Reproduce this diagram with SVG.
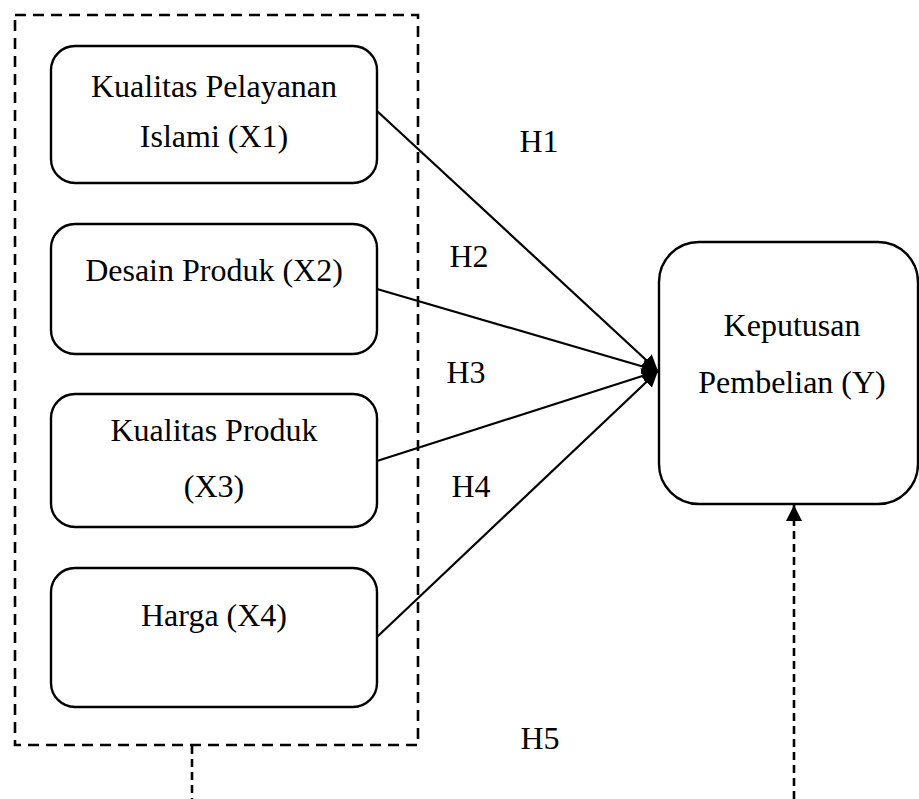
<svg xmlns="http://www.w3.org/2000/svg" width="919" height="799" viewBox="0 0 919 799">
<style>
.box{fill:#fff;stroke:#000;stroke-width:2.4}
.t{font-family:"Liberation Serif","Times New Roman",serif;font-size:32px;fill:#000;text-anchor:middle}
.con{stroke:#000;stroke-width:2.2;fill:none}
.dash{stroke:#000;stroke-width:2.6;fill:none;stroke-dasharray:11 7}
.dash2{stroke:#000;stroke-width:2.6;fill:none;stroke-dasharray:8 5}
</style>
<defs>
<marker id="ah" markerUnits="userSpaceOnUse" markerWidth="17" markerHeight="16" refX="16" refY="8" orient="auto">
<path d="M0,0 L16,8 L0,16 z" fill="#000"/>
</marker>
</defs>
<rect width="919" height="799" fill="#fff"/>
<g id="group-x">
<rect class="dash" x="15" y="15" width="403" height="730"/>
</g>
<g id="x1">
<rect class="box" x="51" y="46" width="326" height="137" rx="24"/>
<text class="t" x="214" y="97">Kualitas Pelayanan</text>
<text class="t" x="214" y="147">Islami (X1)</text>
</g>
<g id="x2">
<rect class="box" x="51" y="224" width="326" height="130" rx="24"/>
<text class="t" x="214" y="281">Desain Produk (X2)</text>
</g>
<g id="x3">
<rect class="box" x="51" y="394" width="326" height="133" rx="24"/>
<text class="t" x="214" y="441">Kualitas Produk</text>
<text class="t" x="214" y="497">(X3)</text>
</g>
<g id="x4">
<rect class="box" x="51" y="568" width="326" height="139" rx="24"/>
<text class="t" x="214" y="626">Harga (X4)</text>
</g>
<g id="y">
<rect class="box" x="659" y="242" width="259" height="262" rx="40"/>
<text class="t" x="792" y="336">Keputusan</text>
<text class="t" x="792" y="393">Pembelian (Y)</text>
</g>
<g id="connectors">
<line class="con" x1="377" y1="111" x2="658" y2="371" marker-end="url(#ah)"/>
<line class="con" x1="377" y1="289" x2="658" y2="371" marker-end="url(#ah)"/>
<line class="con" x1="377" y1="461" x2="658" y2="371" marker-end="url(#ah)"/>
<line class="con" x1="377" y1="637" x2="658" y2="371" marker-end="url(#ah)"/>
<line class="dash2" x1="192" y1="746" x2="192" y2="799"/>
<line class="dash2" x1="794" y1="799" x2="794" y2="505" marker-end="url(#ah)"/>
</g>
<g id="labels">
<text class="t" x="539" y="152">H1</text>
<text class="t" x="469" y="267">H2</text>
<text class="t" x="466" y="383">H3</text>
<text class="t" x="471" y="497">H4</text>
<text class="t" x="540" y="749">H5</text>
</g>
</svg>
